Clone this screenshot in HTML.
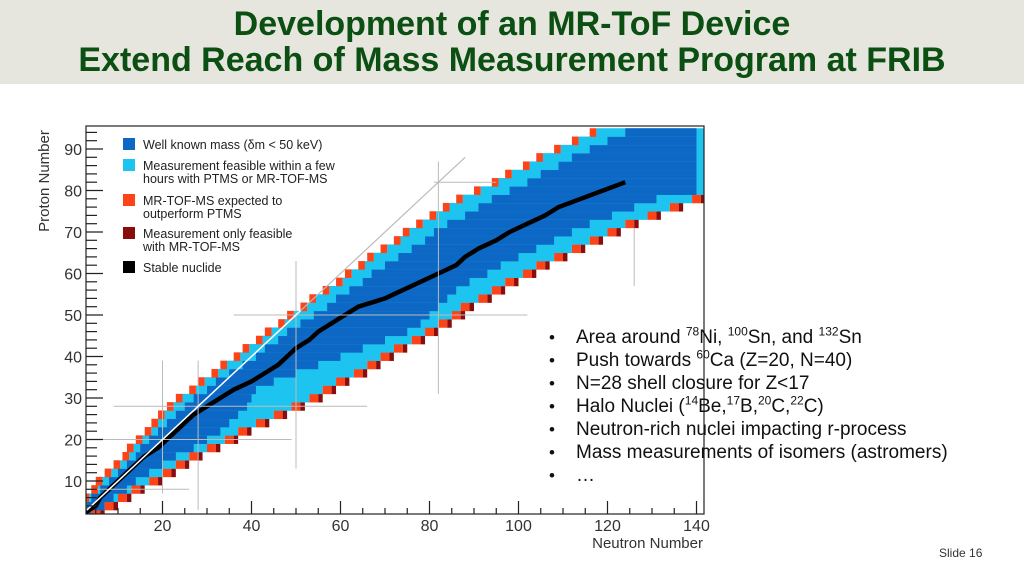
<!DOCTYPE html>
<html><head><meta charset="utf-8"><style>
body{margin:0;width:1024px;height:576px;overflow:hidden;background:#fff;font-family:"Liberation Sans",sans-serif;position:relative}
#hdr{position:absolute;left:0;top:0;width:1024px;height:84px;background:#e6e6df}
.t{position:absolute;left:0;width:1024px;text-align:center;color:#0b4f12;font-weight:bold;font-size:34px;line-height:38px}
#bul{position:absolute;left:549px;top:326px;font-size:19px;color:#111;line-height:23px}
#bul div{position:relative;padding-left:27px}
#bul div:before{content:"•";position:absolute;left:0;font-size:17px}
sup{font-size:12px;line-height:0}
#slide{position:absolute;left:939px;top:546px;font-size:12px;color:#333}
svg{position:absolute;left:0;top:0}
</style></head><body>
<div id="hdr"></div>
<div class="t" style="top:5px">Development of an MR-ToF Device</div>
<div class="t" style="top:41px">Extend Reach of Mass Measurement Program at FRIB</div>
<svg id="chart" width="1024" height="576"></svg>
<div id="bul">
<div>Area around <sup>78</sup>Ni, <sup>100</sup>Sn, and <sup>132</sup>Sn</div>
<div>Push towards <sup>60</sup>Ca (Z=20, N=40)</div>
<div>N=28 shell closure for Z&lt;17</div>
<div>Halo Nuclei (<sup>14</sup>Be,<sup>17</sup>B,<sup>20</sup>C,<sup>22</sup>C)</div>
<div>Neutron-rich nuclei impacting r-process</div>
<div>Mass measurements of isomers (astromers)</div>
<div>…</div>
</div>
<div id="slide">Slide 16</div>
<script>
const zRows=[2,4,6,8,10,12,14,16,18,20,22,24,26,28,30,32,34,36,38,40,42,44,46,48,50,52,54,56,58,60,62,64,66,68,70,72,74,76,78,80,82,84,86,88,90,92,94];
const protonEdge=[0,1,2,4,5,7,9,11,12,14,16,17.5,19,21,23,26,28,31,33,36,38,41,43,46,48,51,53,56,59,61,64,66,69,72,74,77,80,83,86,90,94,97,101,104,108,112,116];
const darkStart=[1,3,4,6,8,10,12,14,15,17,19,21,23,25,27,30,32,35,38,41,43,46,48,51,54,57,59,62,65,67,70,73,76,79,81,84,88,91,94,98,102,105,109,112,116,120,124];
const darkEnd=[4,7,9,12,14,17,20,23,27,30,33,35,37,39,40,41,45,50,55,60,65,70,75,78,80,82,84,86,89,93,96,100,104,108,112,116,121,126,131,140,140,140,140,140,140,140,140];
const neutronEdge=[6,9,12,15,19,22,25,28,32,36,39,43,47,51,55,58,61,65,68,71,74,78,81,84,87,89,93,96,99,103,106,110,114,118,122,126,131,136,141,150,150,150,150,150,150,150,150];
const stableN=[2,5,6,8,10,12,14,16,19,21,23,25,27,30,33,36,40,43,46,48,50,53,55,58,61,64,70,74,78,82,86,88,91,95,98,102,106,109,114,119,124,null,null,null,null,null,null];
const xTicks=[20,40,60,80,100,120,140];
const yTicks=[10,20,30,40,50,60,70,80,90];
const magicV=[[20,7,39],[28,3,39],[50,13,63],[82,31,87],[126,57,71]];
const magicH=[[8,3,26],[20,5.5,49],[28,9,66],[50,36,102],[82,81,95]];
const legendLabels=[["Well known mass (δm < 50 keV)"],["Measurement feasible within a few","hours with PTMS or MR-TOF-MS"],["MR-TOF-MS expected to","outperform PTMS"],["Measurement only feasible","with MR-TOF-MS"],["Stable nuclide"]];

const NS="http://www.w3.org/2000/svg";
const svg=document.getElementById('chart');
const L=86,R=704,T=126,B=514;
const xs=n=>73.5+4.45*n;
const ys=z=>522.5-4.15*z;
const C={dark:"#0c68c4",light:"#1dc4ef",orange:"#fd4419",red:"#8a0d0d",black:"#000"};
function mk(tag,attrs,parent){const e=document.createElementNS(NS,tag);for(const k in attrs)e.setAttribute(k,attrs[k]);(parent||svg).appendChild(e);return e;}
const clip=mk('clipPath',{id:'cp'});mk('rect',{x:L,y:T,width:R-L,height:B-T},clip);
const g=mk('g',{'clip-path':'url(#cp)'});


function cell(n0,n1,z,col,name){if(n1<=n0)return;const r=mk('rect',{x:xs(n0),y:ys(z+1),width:xs(n1)-xs(n0),height:ys(z-1)-ys(z+1)+0.3,fill:col},g);

}
zRows.forEach((z,i)=>{
  const p=protonEdge[i],ds=darkStart[i],de=darkEnd[i],ne=neutronEdge[i];
  const le=ne>=150?150:ne-2;
  cell(p+1.5,le,z,C.light,'feasible-band');
  cell(ds,de,z,C.dark,'known-band');
  cell(p,p+1.5,z,C.orange,'proton-edge-cell');
  if(ne<150){cell(ne-2,ne,z,C.orange,'neutron-edge-cell');cell(ne,ne+1,z,C.red,'mrtof-only-cell');}
});
const pts=[];
zRows.forEach((z,i)=>{if(stableN[i]!==null)pts.push(xs(stableN[i])+','+ys(z));});
const sl=mk('polyline',{points:pts.join(' '),fill:'none',stroke:'#000','stroke-width':4.5,'stroke-linejoin':'bevel'},g);


magicV.forEach(m=>{const l=mk('line',{x1:xs(m[0]),x2:xs(m[0]),y1:ys(m[2]),y2:ys(m[1]),stroke:'#bbb','stroke-width':1});

});
magicH.forEach(m=>{const l=mk('line',{y1:ys(m[0]),y2:ys(m[0]),x1:xs(m[1]),x2:xs(m[2]),stroke:'#bbb','stroke-width':1});

});
let d1=mk('line',{x1:xs(51),y1:ys(51),x2:xs(88),y2:ys(88),stroke:'#bbb','stroke-width':1.2});


let d2=mk('line',{x1:xs(3),y1:ys(3),x2:xs(51),y2:ys(51),stroke:'#fff','stroke-width':1.5});


const fr=mk('rect',{x:L,y:T,width:R-L,height:B-T,fill:'none',stroke:'#222','stroke-width':1.2});


for(let n=5;n<=140;n+=5){const major=n%20===0;mk('line',{x1:xs(n),x2:xs(n),y1:B,y2:B-(major?13:6),stroke:'#222','stroke-width':1.2});}
xTicks.forEach(n=>{const t=mk('text',{x:xs(n),y:531,'text-anchor':'middle','font-size':16,fill:'#333'});t.textContent=n;

});
for(let z=4;z<=94;z+=2){const major=z%10===0;mk('line',{x1:L,x2:L+(major?17:11),y1:ys(z),y2:ys(z),stroke:'#222','stroke-width':1.2});}
yTicks.forEach(z=>{const t=mk('text',{x:82,y:ys(z)+6,'text-anchor':'end','font-size':16,fill:'#333'});t.textContent=z;

});
let xt=mk('text',{x:703,y:548,'text-anchor':'end','font-size':15,fill:'#333'});xt.textContent='Neutron Number';


let yt=mk('text',{x:0,y:0,'text-anchor':'middle','font-size':15,fill:'#333',transform:'translate(49,181) rotate(-90)'});yt.textContent='Proton Number';


const legCols=[C.dark,C.light,C.orange,C.red,C.black];
const legY=[144,165,200,233,267];
legendLabels.forEach((lab,i)=>{
  const s=mk('rect',{x:123,y:legY[i]-6,width:12,height:12,fill:legCols[i]});
  
  
  lab.forEach((tx,j)=>{const t=mk('text',{x:143,y:legY[i]+5+j*13,'font-size':12.5,fill:'#222'});t.textContent=tx;
  
  });
});
</script>
</body></html>
